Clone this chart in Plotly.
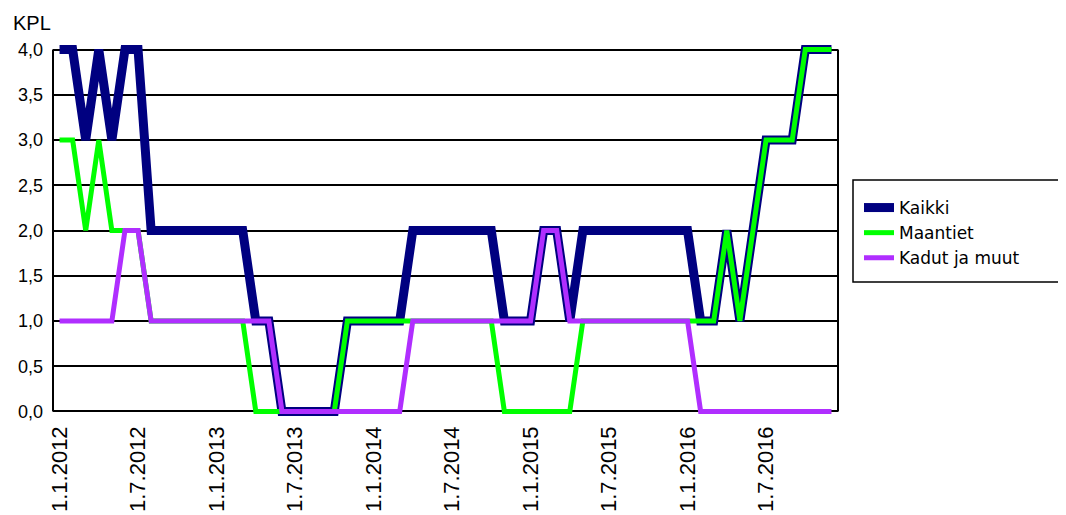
import plotly.graph_objects as go

months = list(range(60))
tick_pos = [0, 6, 12, 18, 24, 30, 36, 42, 48, 54]
tick_labels = ["1.1.2012", "1.7.2012", "1.1.2013", "1.7.2013", "1.1.2014",
               "1.7.2014", "1.1.2015", "1.7.2015", "1.1.2016", "1.7.2016"]

kaikki = [4, 4, 3, 4, 3, 4, 4, 2, 2, 2, 2, 2,
          2, 2, 2, 1, 1, 0, 0, 0, 0, 0, 1, 1,
          1, 1, 1, 2, 2, 2, 2, 2, 2, 2, 1, 1,
          1, 2, 2, 1, 2, 2, 2, 2, 2, 2, 2, 2,
          2, 1, 1, 2, 1, 2, 3, 3, 3, 4, 4, 4]
maantiet = [3, 3, 2, 3, 2, 2, 2, 1, 1, 1, 1, 1,
            1, 1, 1, 0, 0, 0, 0, 0, 0, 0, 1, 1,
            1, 1, 1, 1, 1, 1, 1, 1, 1, 1, 0, 0,
            0, 0, 0, 0, 1, 1, 1, 1, 1, 1, 1, 1,
            1, 1, 1, 2, 1, 2, 3, 3, 3, 4, 4, 4]
kadut = [1, 1, 1, 1, 1, 2, 2, 1, 1, 1, 1, 1,
         1, 1, 1, 1, 1, 0, 0, 0, 0, 0, 0, 0,
         0, 0, 0, 1, 1, 1, 1, 1, 1, 1, 1, 1,
         1, 2, 2, 1, 1, 1, 1, 1, 1, 1, 1, 1,
         1, 0, 0, 0, 0, 0, 0, 0, 0, 0, 0, 0]

y_ticks = [0, 0.5, 1, 1.5, 2, 2.5, 3, 3.5, 4]

# page has an 8px body margin: work in figure coords = screen - 8
OFF = 8
L, R, T, B = 53 - OFF, 838 - OFF, 45 - OFF, 416 - OFF
W, H = 1066 - OFF, 515 - OFF
PW, PH = R - L, B - T


def px(x):
    return (x - OFF - L) / PW


def py(y):
    return (B - (y - OFF)) / PH


fig = go.Figure()
fig.add_trace(go.Scatter(x=months, y=kaikki, mode="lines", name="Kaikki",
                         line=dict(color="#000080", width=9), legendgroup="a"))
fig.add_trace(go.Scatter(x=months, y=maantiet, mode="lines", name="Maantiet",
                         line=dict(color="#00FF00", width=5), legendgroup="b"))
fig.add_trace(go.Scatter(x=months, y=kadut, mode="lines", name="Kadut ja muut",
                         line=dict(color="#B02EFF", width=5), legendgroup="c"))

# frame lines (left and right)
fig.add_shape(type="line", xref="paper", yref="y", x0=0, x1=0, y0=0, y1=4,
              line=dict(color="black", width=2), layer="below")
fig.add_shape(type="line", xref="paper", yref="y", x0=1, x1=1, y0=0, y1=4,
              line=dict(color="black", width=2), layer="below")
# legend box
fig.add_shape(type="rect", xref="paper", yref="paper",
              x0=px(853), x1=px(1063), y0=py(282), y1=py(180),
              line=dict(color="black", width=1.5), fillcolor="white")

fig.add_annotation(text="KPL", xref="paper", yref="paper",
                   x=px(11), y=py(23),
                   xanchor="left", yanchor="middle", showarrow=False,
                   font=dict(family="Liberation Sans, Arial", size=20, color="black"))

fig.update_layout(
    width=W, height=H,
    margin=dict(l=L, r=W - R, t=T, b=H - B, autoexpand=False),
    paper_bgcolor="white", plot_bgcolor="white",
    separators=", ",
    showlegend=True,
    legend=dict(x=px(859), y=py(190), xanchor="left", yanchor="top",
                bgcolor="rgba(0,0,0,0)", borderwidth=0,
                font=dict(family="DejaVu Sans, Verdana", size=17, color="black"),
                tracegroupgap=1, traceorder="normal"),
    font=dict(family="Liberation Sans, Arial", color="black"),
)
fig.update_xaxes(range=[-0.5, 59.5], tickmode="array", tickvals=tick_pos,
                 ticktext=tick_labels, tickangle=-90, ticks="", showgrid=False,
                 showline=False, zeroline=False, automargin=False,
                 ticklabelstandoff=5,
                 tickfont=dict(family="Liberation Sans, Arial", size=22))
fig.update_yaxes(range=[-0.05, 4.05], tickmode="array", tickvals=y_ticks,
                 tickformat=".1f", ticks="", showgrid=True, gridcolor="black",
                 gridwidth=2, zeroline=True, zerolinecolor="black", zerolinewidth=2,
                 showline=False, automargin=False, ticklabelstandoff=9,
                 tickfont=dict(size=18))

fig.write_html("out.html")
